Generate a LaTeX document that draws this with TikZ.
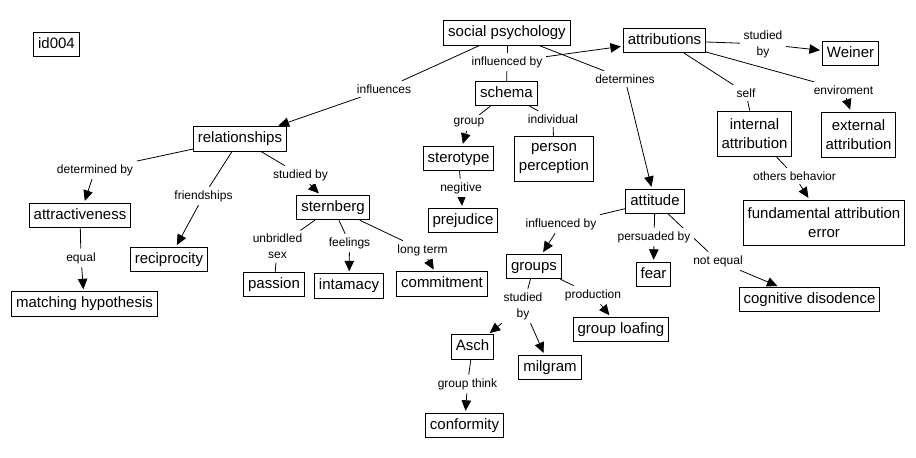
\documentclass[tikz,border=0pt]{standalone}
\usepackage{fontspec}
\setmainfont{Liberation Sans}
\usetikzlibrary{arrows.meta,backgrounds}
\tikzset{
  box/.style={draw=black, fill=white, line width=0.9pt, font=\fontsize{15}{19}\selectfont, inner xsep=4.5pt, inner ysep=5pt, text height=11pt, text depth=3.5pt},
  boxtwo/.style={draw=black, fill=white, line width=0.9pt, font=\fontsize{15}{19}\selectfont, align=center, inner xsep=4.5pt, inner ysep=3pt, minimum height=45pt},
  lab/.style={fill=white, font=\fontsize{12}{16}\selectfont, inner sep=3.5pt, align=center},
  link/.style={draw=black, line width=0.8pt},
  arr/.style={link, -{Triangle[length=10.5pt,width=9.5pt]}, shorten >=2pt},
}
\begin{document}
\begin{tikzpicture}[x=1pt,y=-1pt]
\useasboundingbox (0,0) rectangle (916,458);
% concept boxes
\node[box] (id) at (56.5,44.5) {id004};
\node[box] (sp) at (507,33) {social psychology};
\node[box] (rel) at (240,139) {relationships};
\node[box] (attr) at (80,215.5) {attractiveness};
\node[box] (recip) at (169,259.5) {reciprocity};
\node[box] (stern) at (333,207.5) {sternberg};
\node[box] (match) at (84.5,304) {matching hypothesis};
\node[box] (passion) at (274,284.5) {passion};
\node[box] (intam) at (349,286) {intamacy};
\node[box] (commit) at (442,284) {commitment};
\node[box] (schema) at (506.5,93.5) {schema};
\node[box] (attrib) at (664.5,40.5) {attributions};
\node[box] (weiner) at (850.5,53.5) {Weiner};
\node[boxtwo] (intern) at (754.5,133.5) {internal\\attribution};
\node[boxtwo] (extern) at (858.5,134.5) {external\\attribution};
\node[boxtwo] (fae) at (824,222.5) {fundamental attribution\\error};
\node[box] (stero) at (458.5,158.5) {sterotype};
\node[boxtwo] (person) at (554,158.5) {person\\perception};
\node[box] (prej) at (463,220.5) {prejudice};
\node[box] (attit) at (655,201.5) {attitude};
\node[box] (groups) at (534,266.5) {groups};
\node[box] (fear) at (653.5,274.5) {fear};
\node[box] (cogn) at (809.5,299.5) {cognitive disodence};
\node[box] (loaf) at (621,329.5) {group loafing};
\node[box] (asch) at (472.5,347) {Asch};
\node[box] (milg) at (550,367.5) {milgram};
\node[box] (conf) at (464.5,425.5) {conformity};
% link labels
\node[lab] (linfl) at (384,89) {influences};
\node[lab] (linflby) at (507,62) {influenced by};
\node[lab] (ldet) at (625,79) {determines};
\node[lab] (lstw) at (763,44) {studied\\by};
\node[lab] (lself) at (746,93) {self};
\node[lab] (lenv) at (843.5,90) {enviroment};
\node[lab] (loth) at (794.5,176) {others behavior};
\node[lab] (lgroup) at (469,123) {group};
\node[lab] (lindiv) at (553,119) {individual};
\node[lab] (lneg) at (461,188) {negitive};
\node[lab] (ldetby) at (95,170) {determined by};
\node[lab] (lfriend) at (203.5,196) {friendships};
\node[lab] (lstudst) at (300.5,175) {studied by};
\node[lab] (lequal) at (81,258) {equal};
\node[lab] (lunb) at (277.5,246.5) {unbridled\\sex};
\node[lab] (lfeel) at (349.5,243) {feelings};
\node[lab] (llong) at (422.5,250) {long term};
\node[lab] (linflby2) at (561,224) {influenced by};
\node[lab] (lpers) at (654,237) {persuaded by};
\node[lab] (lnoteq) at (718,261) {not equal};
\node[lab] (lstudgr) at (523,306) {studied\\by};
\node[lab] (lprod) at (593,295) {production};
\node[lab] (lgthink) at (467.5,384) {group think};
% connectors
\begin{scope}[on background layer]
\fill[white] (0,0) rectangle (916,458);
\draw[link] (sp) -- (linfl); \draw[arr] (linfl) -- (rel);
\draw[link] (sp) -- (linflby); \draw[arr] (linflby) -- (attrib); \draw[link] (linflby) -- (schema);
\draw[link] (sp) -- (ldet); \draw[arr] (ldet) -- (attit);
\draw[link] (attrib) -- (lstw); \draw[arr] (lstw) -- (weiner);
\draw[link] (attrib) -- (lself); \draw[link] (lself) -- (intern);
\draw[link] (attrib) -- (lenv); \draw[arr] (lenv) -- (extern);
\draw[link] (intern) -- (loth); \draw[arr] (loth) -- (fae);
\draw[link] (schema) -- (lgroup); \draw[arr] (lgroup) -- (stero);
\draw[link] (schema) -- (lindiv); \draw[link] (lindiv) -- (person);
\draw[link] (stero) -- (lneg); \draw[arr] (lneg) -- (prej);
\draw[link] (rel) -- (ldetby); \draw[arr] (ldetby) -- (attr);
\draw[link] (rel) -- (lfriend); \draw[arr] (lfriend) -- (recip);
\draw[link] (rel) -- (lstudst); \draw[arr] (lstudst) -- (stern);
\draw[link] (attr) -- (lequal); \draw[arr] (lequal) -- (match);
\draw[link] (stern) -- (lunb); \draw[link] (lunb) -- (passion);
\draw[link] (stern) -- (lfeel); \draw[arr] (lfeel) -- (intam);
\draw[link] (stern) -- (llong); \draw[arr] (llong) -- (commit);
\draw[link] (attit) -- (linflby2); \draw[arr] (linflby2) -- (groups);
\draw[link] (attit) -- (lpers); \draw[arr] (lpers) -- (fear);
\draw[link] (attit) -- (lnoteq); \draw[arr] (lnoteq) -- (cogn);
\draw[link] (groups) -- (lstudgr); \draw[arr] (lstudgr) -- (asch); \draw[arr] (lstudgr) -- (milg);
\draw[link] (groups) -- (lprod); \draw[arr] (lprod) -- (loaf);
\draw[link] (asch) -- (lgthink); \draw[arr] (lgthink) -- (conf);
\end{scope}
\end{tikzpicture}
\end{document}
